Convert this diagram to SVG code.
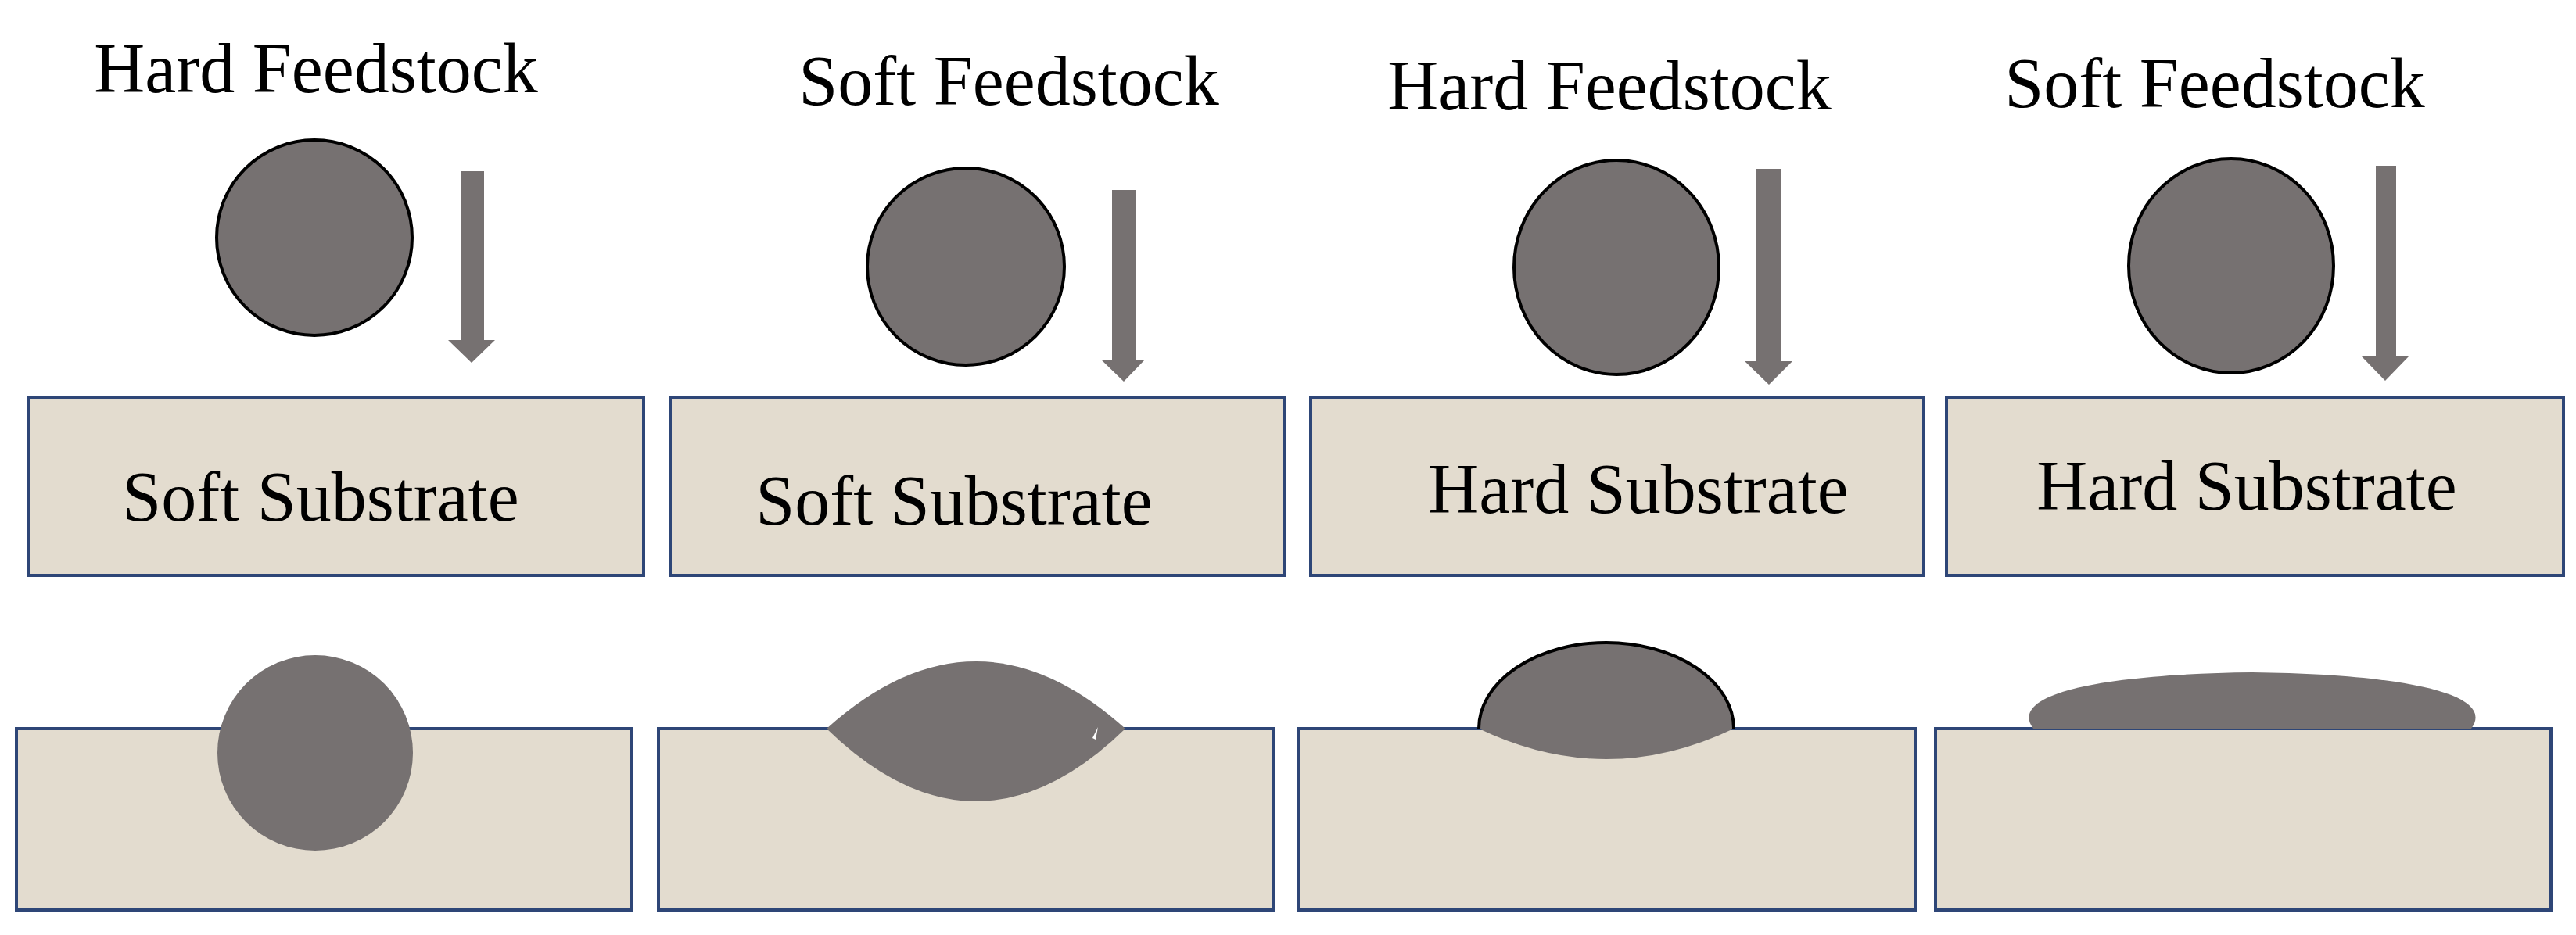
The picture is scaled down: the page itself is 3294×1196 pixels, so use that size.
<svg xmlns="http://www.w3.org/2000/svg" width="3294" height="1196" viewBox="0 0 3294 1196">
<style>
.t{font-family:"Liberation Serif","Times New Roman",serif;font-size:90px;fill:#000}
.box{fill:#e3dccf;stroke:#2e4677;stroke-width:4}
.p{fill:#767171;stroke:#000;stroke-width:4}
.pf{fill:#767171}
.ar{fill:#767171}
</style>
<rect width="3294" height="1196" fill="#fff"/>
<g id="panel1">
<text class="t" x="404" y="118" text-anchor="middle">Hard Feedstock</text>
<circle class="p" cx="402" cy="304" r="125"/>
<path class="ar" d="M589,219H619V435H633L603,464L573,435H589Z"/>
<rect class="box" x="37" y="509" width="786" height="227"/>
<text class="t" x="410" y="666" text-anchor="middle">Soft Substrate</text>
<rect class="box" x="21" y="932" width="787" height="232"/>
<circle class="pf" cx="403" cy="963" r="125"/>
</g>
<g id="panel2">
<text class="t" x="1290" y="134" text-anchor="middle">Soft Feedstock</text>
<circle class="p" cx="1235" cy="341" r="126"/>
<path class="ar" d="M1422,243H1452V460H1464L1437,488L1408,460H1422Z"/>
<rect class="box" x="857" y="509" width="786" height="227"/>
<text class="t" x="1220" y="671" text-anchor="middle">Soft Substrate</text>
<rect class="box" x="842" y="932" width="786" height="232"/>
<path class="pf" d="M1057,932Q1248,760 1439,932Q1248,1118 1057,932Z"/>
<path fill="#fff" d="M1397,944L1404,930L1401,946Z"/>
</g>
<g id="panel3">
<text class="t" x="2058" y="140" text-anchor="middle">Hard Feedstock</text>
<ellipse class="p" cx="2067" cy="342" rx="131" ry="137"/>
<path class="ar" d="M2246,216H2277V462H2292L2262,492L2231,462H2246Z"/>
<rect class="box" x="1676" y="509" width="784" height="227"/>
<text class="t" x="2095" y="656" text-anchor="middle">Hard Substrate</text>
<rect class="box" x="1660" y="932" width="789" height="232"/>
<path class="pf" d="M1891,932A163,110 0 0 1 2217,932Q2054,1010 1891,932Z"/>
<path d="M1891,932A163,110 0 0 1 2217,932" fill="none" stroke="#000" stroke-width="4"/>
</g>
<g id="panel4">
<text class="t" x="2832" y="137" text-anchor="middle">Soft Feedstock</text>
<ellipse class="p" cx="2853" cy="340" rx="131" ry="137"/>
<path class="ar" d="M3038,212H3064V456H3080L3050,487L3020,456H3038Z"/>
<rect class="box" x="2489" y="509" width="789" height="227"/>
<text class="t" x="2873" y="652" text-anchor="middle">Hard Substrate</text>
<rect class="box" x="2475" y="932" width="787" height="232"/>
<path class="pf" d="M2600,932C2565,885 2700,862 2880,860C3060,862 3195,885 3160,932Z"/>
</g>
<g id="connectors"></g>
</svg>
